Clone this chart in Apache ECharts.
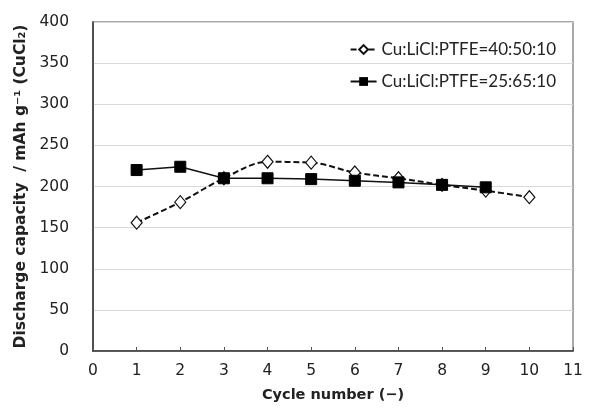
<!DOCTYPE html>
<html>
<head>
<meta charset="utf-8">
<script src="https://cdn.jsdelivr.net/npm/echarts@6/dist/echarts.min.js"></script>
<style>
  html, body { margin: 0; padding: 0; background: #fff; }
  #chart { width: 607px; height: 408px; }
</style>
</head>
<body>
<div id="chart"></div>
<script>
// Discharge capacity per cycle for two electrode compositions
const cycles = [1, 2, 3, 4, 5, 6, 7, 8, 9, 10];
const seriesA_name = 'Cu:LiCl:PTFE=40:50:10';
const seriesA = [156, 181, 210, 230, 229, 217, 210, 202, 195, 187];
const seriesB_name = 'Cu:LiCl:PTFE=25:65:10';
const seriesB = [220, 224, 210, 210, 209, 207, 205, 202, 199];
const xTicks = [0, 1, 2, 3, 4, 5, 6, 7, 8, 9, 10, 11];
const yTicks = [0, 50, 100, 150, 200, 250, 300, 350, 400];

const labelFont = '"DejaVu Sans", sans-serif';

const chart = echarts.init(document.getElementById('chart'));
chart.setOption({
  animation: false,
  backgroundColor: '#fff',
  grid: {
    left: 93, right: 34, top: 22, bottom: 55,
    show: true, borderColor: '#8c8c8c', borderWidth: 1.5
  },
  legend: {
    orient: 'vertical',
    right: 46, top: 36,
    itemGap: 15,
    itemWidth: 26, itemHeight: 11,
    textStyle: { fontSize: 17, color: '#222', fontFamily: 'Lato, "Liberation Sans", sans-serif' },
    data: [seriesA_name, seriesB_name]
  },
  xAxis: {
    type: 'value',
    min: xTicks[0], max: xTicks[xTicks.length - 1], interval: 1,
    name: 'Cycle number (−)',
    nameLocation: 'middle', nameGap: 37,
    nameTextStyle: { fontSize: 14.5, fontWeight: 'bold', color: '#222', fontFamily: labelFont },
    axisLine: { lineStyle: { color: '#333', width: 1.5 } },
    axisTick: { inside: true, length: 4, lineStyle: { color: '#555' } },
    axisLabel: { fontSize: 15.5, color: '#222', margin: 12, fontFamily: labelFont },
    splitLine: { show: false }
  },
  yAxis: {
    type: 'value',
    min: yTicks[0], max: yTicks[yTicks.length - 1], interval: 50,
    name: 'Discharge capacity  / mAh g⁻¹ (CuCl₂)',
    nameLocation: 'middle', nameGap: 62,
    nameTextStyle: { fontSize: 15.5, fontWeight: 'bold', color: '#222', fontFamily: labelFont },
    axisLine: { show: true, lineStyle: { color: '#333', width: 1.5 } },
    axisTick: { show: false },
    axisLabel: { fontSize: 15.5, color: '#222', margin: 24, fontFamily: labelFont },
    splitLine: { lineStyle: { color: '#d9d9d9', width: 1.2 } }
  },
  series: [
    {
      name: seriesA_name,
      type: 'line',
      data: cycles.map((c, i) => [c, seriesA[i]]),
      smooth: 0.35,
      symbol: 'diamond', symbolSize: [11, 13],
      itemStyle: { color: '#fff', borderColor: '#111', borderWidth: 1.2 },
      lineStyle: { color: '#111', width: 2, type: [6, 3] },
      z: 2
    },
    {
      name: seriesB_name,
      type: 'line',
      data: seriesB.map((v, i) => [cycles[i], v]),
      symbol: 'rect', symbolSize: 11,
      itemStyle: { color: '#000', borderColor: '#000' },
      lineStyle: { color: '#111', width: 1.5 },
      z: 3
    }
  ]
});
</script>
</body>
</html>
